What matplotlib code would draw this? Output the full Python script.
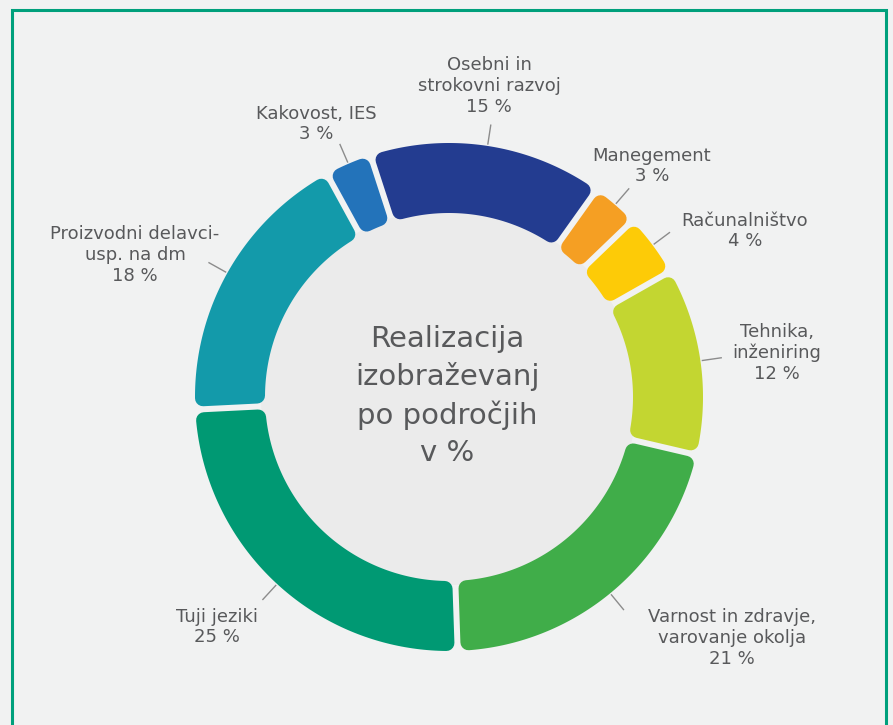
import numpy as np
import matplotlib.pyplot as plt
from matplotlib.patches import Polygon, Circle, Rectangle

# Data
labels = [
    "Osebni in\nstrokovni razvoj",
    "Manegement",
    "Računalništvo",
    "Tehnika,\ninženiring",
    "Varnost in zdravje,\nvarovanje okolja",
    "Tuji jeziki",
    "Proizvodni delavci-\nusp. na dm",
    "Kakovost, IES",
]
values = [15, 3, 4, 12, 21, 25, 18, 3]
colors = ["#233c90", "#f59f23", "#fdcb07", "#c3d631",
          "#40ad49", "#009973", "#139aaa", "#2373ba"]
center_title = "Realizacija\nizobraževanj\npo področjih\nv %"

# label block centres in image pixels (x, y from top)
label_pos = [(489, 86), (652, 166), (745, 231), (777, 353),
             (732, 638), (217, 627), (135, 255), (316, 124)]

plt.rcParams["font.family"] = ["DejaVu Sans"]
text_color = "#58595b"

W, H = 893, 725
fig = plt.figure(figsize=(W / 100, H / 100), dpi=100)
fig.patch.set_facecolor("#f1f2f2")
ax = fig.add_axes([0, 0, 1, 1])
ax.set_facecolor("#f1f2f2")

cx, cy = 449, H - 397
r_out, r_in = 254, 184
corner = 8   # px radius of rounded corners
gap = 6      # px between segments

wedges, _ = ax.pie(values, colors=colors, startangle=108, counterclock=False,
                   radius=r_out, center=(cx, cy),
                   wedgeprops=dict(width=r_out - r_in))

# inner disc
ax.add_patch(Circle((cx, cy), r_in + 4, fc="#ebebeb", ec="none", zorder=0))

# replace each wedge by a shrunk sector stroked with round joins -> rounded corners
R = r_out - corner
r = r_in + corner
d = gap / 2 + corner
a_out = np.arcsin(d / R)
a_in = np.arcsin(d / r)
for w in wedges:
    t1, t2 = np.radians(w.theta1), np.radians(w.theta2)
    outer = np.linspace(t1 + a_out, t2 - a_out, 100)
    inner = np.linspace(t2 - a_in, t1 + a_in, 100)
    xs = np.concatenate([cx + R * np.cos(outer), cx + r * np.cos(inner)])
    ys = np.concatenate([cy + R * np.sin(outer), cy + r * np.sin(inner)])
    fc = w.get_facecolor()
    ax.add_patch(Polygon(np.column_stack([xs, ys]), closed=True, fc=fc, ec=fc,
                         lw=corner * 2 * 0.72, joinstyle="round", zorder=2))
    w.set_visible(False)

# leader lines and labels
for w, lab, v, (lx, ly) in zip(wedges, labels, values, label_pos):
    m = np.radians((w.theta1 + w.theta2) / 2)
    ax.plot([cx + (r_out + 2) * np.cos(m), cx + (r_out + 21) * np.cos(m)],
            [cy + (r_out + 2) * np.sin(m), cy + (r_out + 21) * np.sin(m)],
            color="#8c8c8c", lw=1, zorder=3)
    ax.text(lx, H - ly, f"{lab}\n{v} %", ha="center", va="center",
            fontsize=13, color=text_color, linespacing=1.2)

ax.text(cx - 2, cy + 1, center_title, ha="center", va="center",
        fontsize=21, color=text_color, linespacing=1.4)

# green frame
ax.add_patch(Rectangle((12, -40), 874, 755, fill=False, ec="#00a07c", lw=2.2))

ax.set_xlim(0, W)
ax.set_ylim(0, H)
ax.set_aspect("equal")
ax.axis("off")

fig.savefig("out.png", dpi=100, facecolor=fig.get_facecolor())
